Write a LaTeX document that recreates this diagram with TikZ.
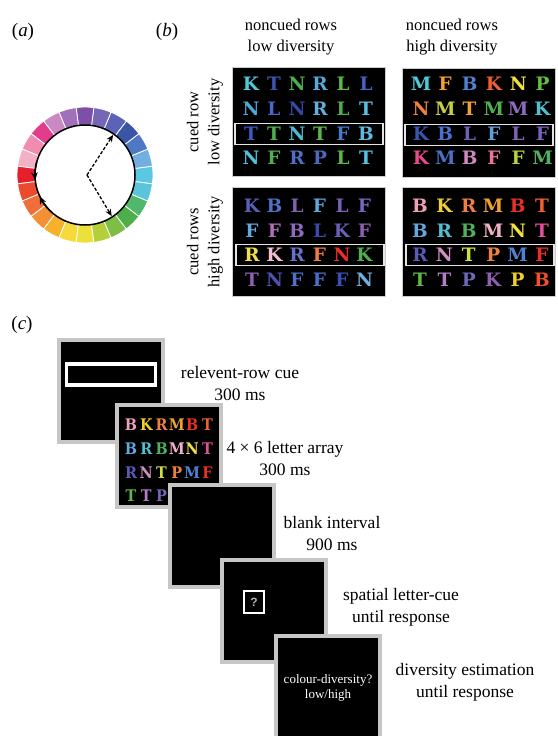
\documentclass[tikz,border=0pt]{standalone}
\usepackage{fontspec}
\setmainfont{Liberation Serif}
\newfontfamily\cuefont{Liberation Sans}
\newfontfamily\letterfont{DejaVu Serif}
\newfontfamily\narrowLetterfont{DejaVu Serif Condensed}
\usetikzlibrary{arrows.meta}

\begin{document}
\begin{tikzpicture}
[x=1pt,y=-1pt,
  labelDecorate/.style={font=\fontsize{16.5}{21}\selectfont,align=center,inner sep=0pt},
  stepLabel/.style={font=\fontsize{17.5}{22}\selectfont,align=center,inner sep=0pt},
  partDecorate/.style={font=\fontsize{19}{19}\selectfont,inner sep=0pt},
  panelDecorate/.style={fill=black,draw=gray!40,line width=0.6pt,inner sep=0pt,
    minimum width=153pt,minimum height=109pt},
  cueDecorate/.style={draw=gray!20,line width=1.8pt,inner sep=0pt,
    minimum width=148pt,minimum height=21pt},
  letterDecorate/.style={font=\fontsize{18.5}{18.5}\letterfont\bfseries,inner sep=0pt},
  smallLetterDecorate/.style={font=\fontsize{16}{16}\narrowLetterfont\bfseries,inner sep=0pt},
  frameDecorate/.style={fill=black,draw=gray!45,line width=4pt,inner sep=0pt,
    minimum width=104pt,minimum height=102pt},
  arrowDecorate/.style={-{Stealth[length=7pt,width=6pt]},line width=1.3pt,
    dash pattern=on 3.2pt off 1.8pt},
  arcDecorate/.style={-{Stealth[length=8pt,width=6.5pt]},line width=1.5pt}]
\useasboundingbox (0,0) rectangle (557,736);

%% part labels
\node[partDecorate] (partA) at (23,32) {(\textit{a})};
\node[partDecorate] (partB) at (167,32) {(\textit{b})};
\node[partDecorate] (partC) at (22,325) {(\textit{c})};

%% colour wheel
\begin{scope}[shift={(85,175)},y=1pt]
\foreach \i/\hex in {
  0/5BC8E3, 1/72AEDF, 2/4F78C4, 3/3A55A8, 4/5A63B5, 5/7567B6,
  6/7E4FA8, 7/A270BA, 8/CB89C2, 9/E43C8C, 10/F08CB0, 11/F4B0C4,
  12/E51F2B, 13/EB4A2D, 14/EF6E3A, 15/F38F35, 16/F6B02A, 17/F6D93A,
  18/EEE03A, 19/B5CF3A, 20/7DBE45, 21/4EAE4C, 22/4FB86A, 23/5BC4DA}
{
  \definecolor{segColor}{HTML}{\hex}
  \filldraw[fill=segColor,draw=white,line width=0.8pt]
    (\i*15-7.5:49) arc[start angle=\i*15-7.5,end angle=\i*15+7.5,radius=49]
    -- (\i*15+7.5:68) arc[start angle=\i*15+7.5,end angle=\i*15-7.5,radius=68]
    -- cycle;
}
\fill[white] (0,0) circle[radius=50];
\draw[line width=1.5pt] (0,0) circle[radius=50];
\coordinate (hub) at (2,0);
\coordinate (tipUp) at (55:49);
\coordinate (tipDown) at (-57:49);
\draw[arrowDecorate] (hub) -- (tipUp);
\draw[arrowDecorate] (hub) -- (tipDown);
\draw[arcDecorate] (165:50) arc[start angle=165,end angle=186,radius=50];
\draw[arcDecorate] (228:50) arc[start angle=228,end angle=205,radius=50];
\end{scope}

%% letter panels
\node[labelDecorate] (noncuedLow) at (291,37) {noncued rows\\low diversity};
\node[labelDecorate] (noncuedHigh) at (452,37) {noncued rows\\high diversity};
\node[labelDecorate,rotate=90] (cuedLow) at (205,122) {cued row\\low diversity};
\node[labelDecorate,rotate=90] (cuedHigh) at (205,242) {cued rows\\high diversity};

\node[panelDecorate] (lowLow) at (309,122) {};
\node[panelDecorate] (highLow) at (479,123) {};
\node[panelDecorate] (lowHigh) at (309,242) {};
\node[panelDecorate] (highHigh) at (479,242) {};
\node[cueDecorate] (lowLowCue) at (309,134) {};
\node[cueDecorate] (highLowCue) at (479,135) {};
\node[cueDecorate] (lowHighCue) at (310,255) {};
\node[cueDecorate] (highHighCue) at (480,255) {};

\foreach \y/\row in {
  84/{K/4FC8D8,T/3A55B0,N/4CB050,R/5AA8D8,L/5DB848,L/4466C0},
  109/{N/50A8D8,L/4D66C8,N/3548A8,R/60B0DC,L/50B050,T/5AC0E0},
  134/{T/3A5AC0,T/4CB050,N/4FB8D0,T/5AB848,F/4A78C8,B/60B8E0},
  158/{N/50C0D8,F/50B050,R/4A70C8,P/4A6AC0,L/5AB848,T/58C0E0}}
{
  \foreach \ch/\hex [count=\i from 0] in \row
  {
    \definecolor{letterColor}{HTML}{\hex}
    \node[letterDecorate,text=letterColor] (lowLow-\y-\i) at (251+23*\i,\y) {\ch};
  }
}
\foreach \y/\row in {
  84/{M/50C8D8,F/F5A030,B/5080D0,K/F06030,N/F0E040,P/60C040},
  109/{N/F08040,M/C8D040,T/F0A030,M/50B050,M/8E6AC0,K/50C0D0},
  134/{K/3A55B0,B/4A70C8,L/7060B8,F/60A0D8,L/8060B8,F/7A60C0},
  158/{K/E84A8A,M/4A70C8,B/D08AC0,F/F070A0,F/B8D040,M/50B060}}
{
  \foreach \ch/\hex [count=\i from 0] in \row
  {
    \definecolor{letterColor}{HTML}{\hex}
    \node[letterDecorate,text=letterColor] (highLow-\y-\i) at (421+24.3*\i,\y) {\ch};
  }
}
\foreach \y/\row in {
  206/{K/5A60B8,B/5070C8,L/8060B0,F/60A8E0,L/7A60B8,F/7A68C0},
  231/{F/60A8E0,F/B070B8,B/8E6AC0,L/3A4AA8,K/6A60B8,F/8E60B0},
  255/{R/F0E040,K/F4C0D0,R/6A70C8,F/F08040,N/E83028,K/50B050},
  280/{T/9060B0,N/5050B0,F/5070C8,F/4A70C8,F/3A50B8,N/70B0E0}}
{
  \foreach \ch/\hex [count=\i from 0] in \row
  {
    \definecolor{letterColor}{HTML}{\hex}
    \node[letterDecorate,text=letterColor] (lowHigh-\y-\i) at (252+22.5*\i,\y) {\ch};
  }
}
\foreach \y/\row in {
  206/{B/F0A0B8,K/F0D030,R/F08040,M/F0A030,B/E83028,T/F06030},
  231/{B/60A8E0,R/50C0D0,B/50B060,M/F0B0C8,N/F0E040,T/E0509A},
  255/{R/5A5AB8,N/D090C0,T/D0E040,P/F08040,M/5080D0,F/E83028},
  280/{T/60B848,T/B080C0,P/7068B8,K/8E60B0,P/F0D030,B/F05030}}
{
  \foreach \ch/\hex [count=\i from 0] in \row
  {
    \definecolor{letterColor}{HTML}{\hex}
    \node[letterDecorate,text=letterColor] (highHigh-\y-\i) at (420+24.4*\i,\y) {\ch};
  }
}

%% trial sequence
\node[frameDecorate] (cueFrame) at (111,391) {};
\node[draw=white,line width=3.5pt,minimum width=89pt,minimum height=21pt,inner sep=0pt]
  (rowCue) at (111,374.5) {};
\node[frameDecorate] (arrayFrame) at (169,456) {};
\foreach \y/\row in {
  425/{B/F0A0B8,K/F0D030,R/F08040,M/F0A030,B/E83028,T/F06030},
  449/{B/60A8E0,R/50C0D0,B/50B060,M/F0B0C8,N/F0E040,T/E0509A},
  473/{R/5A5AB8,N/D090C0,T/D0E040,P/F08040,M/5080D0,F/E83028},
  496/{T/60B848,T/B080C0,P/7068B8,K/8E60B0,P/F0D030,B/F05030}}
{
  \foreach \ch/\hex [count=\i from 0] in \row
  {
    \definecolor{letterColor}{HTML}{\hex}
    \node[smallLetterDecorate,text=letterColor] (array-\y-\i) at (131+15.3*\i,\y) {\ch};
  }
}
\node[frameDecorate] (blankFrame) at (222,536) {};
\node[frameDecorate] (letterCueFrame) at (274,611) {};
\node[draw=white,line width=2.5pt,minimum width=20pt,minimum height=22pt,inner sep=0pt,
  text=gray!60,font=\fontsize{12}{12}\cuefont\bfseries] (questionCue) at (254,602) {?};
\node[frameDecorate] (estimateFrame) at (328,687) {};
\node[text=white,align=center,font=\fontsize{13}{15}\selectfont,inner sep=0pt]
  (estimateQuestion) at (328,688) {colour-diversity?\\low/high};

\node[stepLabel] (cueText) at (240,384) {relevent-row cue\\300 ms};
\node[stepLabel] (arrayText) at (285,459) {4 × 6 letter array\\300 ms};
\node[stepLabel] (blankText) at (332,534) {blank interval\\900 ms};
\node[stepLabel] (letterCueText) at (401,607) {spatial letter-cue\\until response};
\node[stepLabel] (estimateText) at (465,682) {diversity estimation\\until response};
\end{tikzpicture}
\end{document}
